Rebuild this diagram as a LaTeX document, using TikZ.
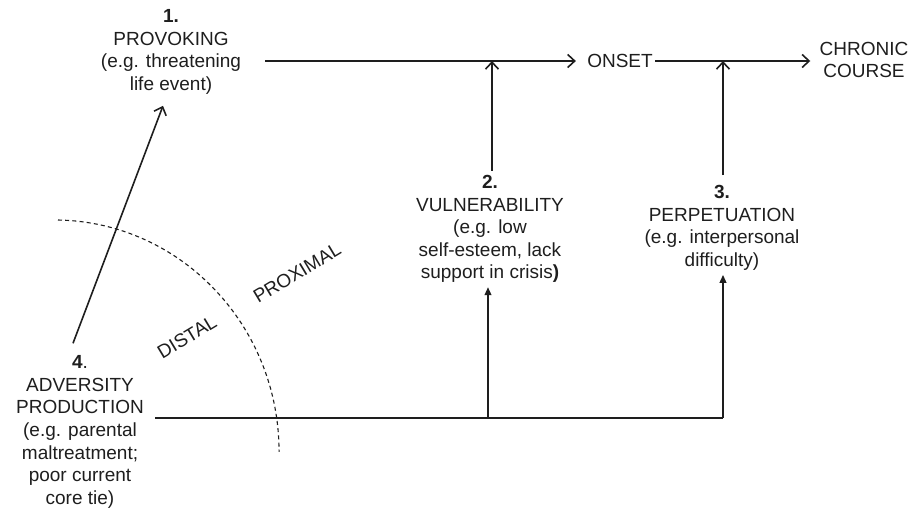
\documentclass[tikz,border=0pt]{standalone}
\usepackage{fontspec}
\setmainfont{Liberation Sans}
\usetikzlibrary{arrows.meta,calc,positioning}
\definecolor{inkdark}{RGB}{30,30,30}
\tikzset{
  flow/.style={-{Straight Barb[length=3.5pt,width=6.5pt]}, line width=0.8pt, draw=inkdark},
  flowfill/.style={-{Triangle[length=4pt,width=3.4pt]}, line width=0.8pt, draw=inkdark},
  plainline/.style={line width=0.8pt, draw=inkdark},
  stage/.style={
    align=center,
    inner sep=2pt,
    text=inkdark,
    font=\fontsize{9.5}{11.3}\selectfont
  },
  zone/.style={text=inkdark, inner sep=0pt, font=\fontsize{9.5}{11.3}\selectfont, rotate=31},
  boundary/.style={dash pattern=on 2pt off 1.6pt, line width=0.55pt, draw=inkdark}
}

\begin{document}
\begin{tikzpicture}[x=0.5pt, y=0.5pt]
  \useasboundingbox (0,0) rectangle (922,511);

  \node[stage] (prov) at (171,459)
    {\textbf{1.}\\PROVOKING\\(e.g. threatening\\life event)};
  \node[stage, inner sep=1pt] (onset) at (620,450) {ONSET};
  \node[stage] (chronic) at (864,451) {CHRONIC\\COURSE};
  \node[stage] (vul) at (490,282)
    {\textbf{2.}\\VULNERABILITY\\(e.g. low\\self-esteem, lack\\support in crisis\textbf{)}};
  \node[stage] (perp) at (722,283)
    {\textbf{3.}\\PERPETUATION\\(e.g. interpersonal\\difficulty)};
  \node[stage] (adv) at (80,79)
    {\textbf{4}.\\ADVERSITY\\PRODUCTION\\(e.g. parental\\maltreatment;\\poor current\\core tie)};

  \coordinate (j2) at (492,450);
  \coordinate (j3) at (723,450);
  \coordinate (b0) at (155,93);
  \coordinate (b2) at (488,93);
  \coordinate (b3) at (723,93);

  % main pathway
  \draw[flow, shorten >=4.5pt] ($(prov.east |- onset)+(20,0)$) -- (onset.west);
  \draw[flow, shorten >=2.5pt] (onset.east) -- (chronic.west |- onset);
  \draw[flow] (vul.north -| j2) -- (j2);
  \draw[flow, shorten <=3pt] (perp.north -| j3) -- (j3);
  \draw[flow] ($(adv.north)+(-7,8)$) -- ($(prov.south)+(-8,-7)$);

  % adversity feeds 2 and 3
  \draw[plainline] (b0) -- (b3);
  \draw[flowfill] (b2) -- (b2 |- vul.south);
  \draw[flowfill] (b3) -- (b3 |- perp.south);

  % distal / proximal split
  \draw[boundary] (58,291) arc[start angle=89, end angle=0, x radius=112.5pt, y radius=116pt];
  \node[zone] (distal) at (187,174) {DISTAL};
  \node[zone] (proximal) at (297,238) {PROXIMAL};
\end{tikzpicture}
\end{document}
